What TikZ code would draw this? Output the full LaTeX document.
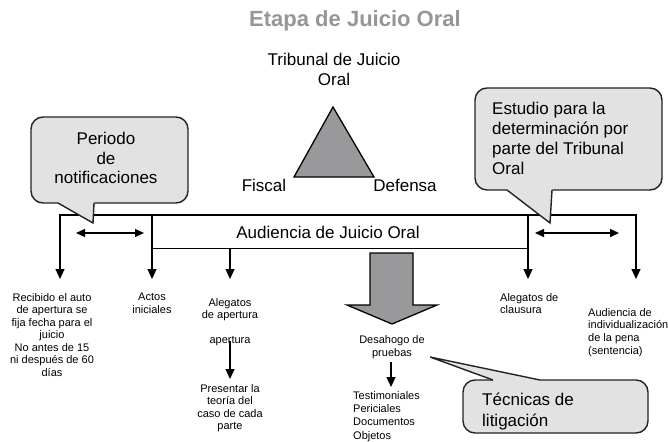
\documentclass[tikz,border=0pt]{standalone}
\usepackage{fontspec}
\setmainfont{Liberation Sans}
\usetikzlibrary{arrows.meta, calc}
\definecolor{grisglobo}{RGB}{226, 226, 226}
\definecolor{grismedio}{RGB}{153, 153, 155}
\definecolor{gristitulo}{RGB}{150, 150, 150}
\definecolor{bordeglobo}{RGB}{35, 35, 35}

\begin{document}
\begin{tikzpicture}[x=1pt, y=-1pt,
    txtchico/.style={font=\fontsize{11}{12.5}\selectfont, inner sep=0pt},
    txtgrande/.style={font=\fontsize{17}{20}\selectfont, inner sep=0pt},
    flecha/.style={-{Triangle[length=10pt, width=9pt]}, line width=1.2pt},
    dobleflecha/.style={{Triangle[length=9pt, width=8pt]}-{Triangle[length=9pt, width=8pt]}, line width=1.5pt},
    globo/.style={draw=bordeglobo, line width=1.4pt, fill=grisglobo, rounded corners=12pt},
    borde/.style={draw=bordeglobo, line width=1.4pt}
]
\useasboundingbox (0,0) rectangle (668,441);

% === Titulo ===
\node[font=\fontsize{22}{26}\selectfont\bfseries, text=gristitulo, anchor=base] (titulo) at (355,27) {Etapa de Juicio Oral};

% === Triangulo del tribunal ===
\node[txtgrande, align=center, anchor=north] (tribunal) at (334,53) {Tribunal de Juicio\\Oral};
\filldraw[fill=grismedio, draw=black, line width=1.3pt] (333,107) -- (374,177) -- (294,177) -- cycle;
\node[txtgrande, anchor=base] (fiscal) at (264,191) {Fiscal};
\node[txtgrande, anchor=base] (defensa) at (405,191) {Defensa};

% === Linea de tiempo ===
\coordinate (ini) at (60,215);
\coordinate (fin) at (636,215);
\coordinate (tope) at (0,279);
\node[draw, line width=1pt, minimum width=375pt, minimum height=33pt, inner sep=0pt, anchor=north west] (aud) at (152,215) {};
\node[txtgrande, anchor=base] (audtxt) at (328,238) {Audiencia de Juicio Oral};
\draw[line width=1.2pt, {Triangle[length=10pt, width=9pt]}-{Triangle[length=10pt, width=9pt]}] (ini |- tope) -- (ini) -- (fin) -- (fin |- tope);
\draw[flecha] (aud.north west) -- (aud.north west |- tope);
\draw[flecha] (aud.north east) -- (aud.north east |- tope);

% Periodos entre etapas
\draw[dobleflecha] ($(ini)+(16,18)$) -- ($(aud.north west)+(-8,18)$);
\draw[dobleflecha] ($(aud.north east)+(7,18)$) -- ($(fin)+(-17,18)$);

% === Textos bajo la linea ===
\node[txtchico, align=center, anchor=north] (recibido) at (52,293) {Recibido el auto\\de apertura se\\fija fecha para el\\juicio\\No antes de 15\\ni después de 60\\días};
\node[txtchico, align=center, anchor=north] (actos) at (152,293) {Actos\\iniciales};
\node[txtchico, align=center, anchor=north] (alegatos) at (230,298) {Alegatos\\de apertura\\[12.5pt]apertura};
\node[txtchico, align=center, anchor=north] (presentar) at (230,384) {Presentar la\\teoría del\\caso de cada\\parte};
\node[txtchico, align=center, anchor=north, font=\fontsize{11}{13.5}\selectfont] (desahogo) at (392,335) {Desahogo de\\pruebas};
\node[txtchico, align=left, anchor=north west, font=\fontsize{11}{13.3}\selectfont] (pruebas) at (353,391) {Testimoniales\\Periciales\\Documentos\\Objetos};
\node[txtchico, align=left, anchor=north west] (clausura) at (500,293) {Alegatos de\\clausura};
\node[txtchico, align=left, anchor=north west, font=\fontsize{11}{12.7}\selectfont] (indiv) at (588,308) {Audiencia de\\individualización\\de la pena\\(sentencia)};

\draw[flecha] (aud.south -| alegatos) -- (alegatos.north |- tope);
\draw[flecha, shorten <=-5pt, shorten >=5pt] (alegatos.south) -- (presentar.north);
\draw[flecha] ($(desahogo.south)+(-1,3)$) -- ($(desahogo.south |- pruebas.north)+(-1,-4)$);

% === Flecha gruesa hacia las pruebas ===
\filldraw[fill=grismedio, draw=black, line width=1.3pt] (370,253) -- (413,253) -- (413,305) -- (437,305) -- (392,324) -- (347,305) -- (370,305) -- cycle;

% === Globos ===
% Periodo de notificaciones
\draw[globo] (31,117) rectangle (188,203);
\fill[grisglobo] (58,201) -- (94,201) -- (94,203) -- (93,223) -- (58,203) -- cycle;
\draw[borde] (58,203) -- (93,223) -- (94,203);
\node[txtgrande, align=center, anchor=north, font=\fontsize{17}{19.5}\selectfont] (periodo) at (106,132) {Periodo\\de\\notificaciones};

% Estudio del tribunal
\draw[globo] (475,88) rectangle (662,190);
\fill[grisglobo] (507,188) -- (552,188) -- (552,190) -- (550,223) -- (507,190) -- cycle;
\draw[borde] (507,190) -- (550,223) -- (552,190);
\node[txtgrande, align=left, anchor=north west] (estudio) at (492,102) {Estudio para la\\determinación por\\parte del Tribunal\\Oral};

% Tecnicas de litigacion
\draw[globo] (463,380) rectangle (648,433);
\fill[grisglobo] (493,382) -- (540,382) -- (540,380) -- (430,357) -- (493,380) -- cycle;
\draw[borde] (493,380) -- (430,357) -- (540,380);
\node[txtgrande, align=left, anchor=north west, font=\fontsize{17}{21}\selectfont] (tecnicas) at (482,393) {Técnicas de\\litigación};

\end{tikzpicture}
\end{document}
